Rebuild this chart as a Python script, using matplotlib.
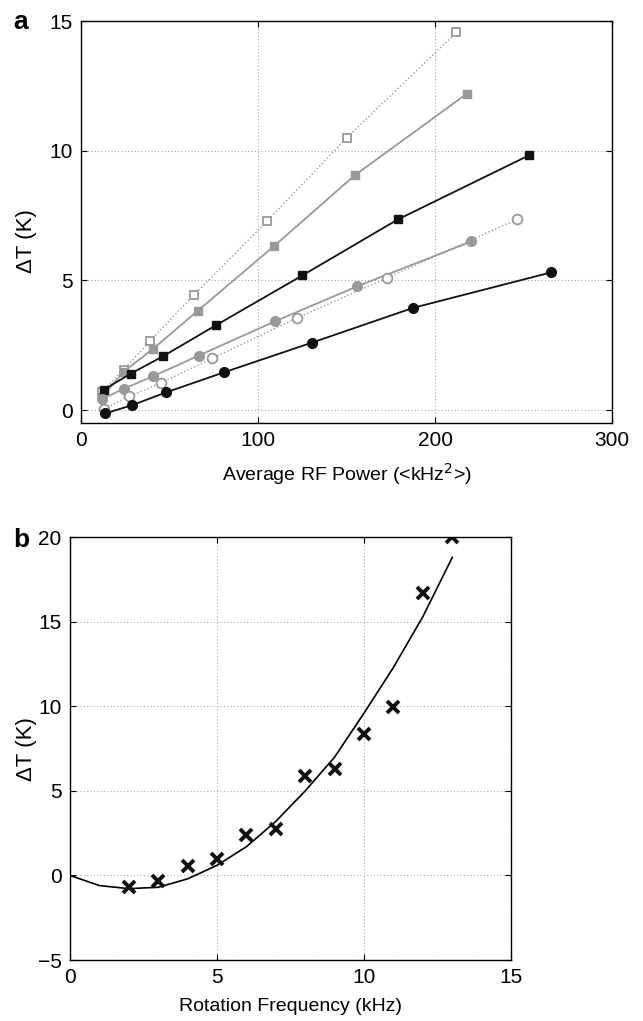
import matplotlib.pyplot as plt

plt.rcParams["font.family"] = ["Liberation Sans", "DejaVu Sans"]

# --- panel a: temperature rise vs average RF power ---
open_sq_x = [12, 24, 39, 64, 105, 150, 212]
open_sq_y = [0.70, 1.55, 2.67, 4.45, 7.28, 10.49, 14.56]

grey_sq_x = [12, 24, 40.5, 66, 109, 154.6, 218]
grey_sq_y = [0.50, 1.47, 2.35, 3.83, 6.32, 9.05, 12.2]

black_sq_x = [13, 28, 46.5, 76, 125, 179, 253]
black_sq_y = [0.79, 1.40, 2.08, 3.26, 5.19, 7.35, 9.82]

grey_ci_x = [12, 24, 40.7, 66.5, 109.6, 156, 220.5]
grey_ci_y = [0.42, 0.82, 1.30, 2.10, 3.42, 4.77, 6.50]

open_ci_x = [13, 27, 45, 74, 122, 173, 246]
open_ci_y = [0.04, 0.53, 1.04, 1.99, 3.55, 5.10, 7.35]

black_ci_x = [13.7, 29, 48, 80.6, 130.5, 187.6, 265.7]
black_ci_y = [-0.13, 0.19, 0.68, 1.45, 2.60, 3.94, 5.31]

# --- panel b: temperature rise vs rotation frequency ---
rot_x = [2, 3, 4, 5, 6, 7, 8, 9, 10, 11, 12, 13]
rot_y = [-0.7, -0.3, 0.53, 0.95, 2.37, 2.72, 5.86, 6.27, 8.34, 9.94, 16.7, 20.0]

fit_x = [0, 1, 2, 3, 4, 5, 6, 7, 8, 9, 10, 11, 12, 13]
fit_y = [0.0, -0.6, -0.78, -0.7, -0.2, 0.6, 1.7, 3.2, 5.0, 7.0, 9.6, 12.3, 15.3, 18.8]

GREY = "#999999"
TICK_FS = 15
LABEL_FS = 14
YLABEL_FS = 16


def style_axes(ax):
    ax.grid(True, linestyle=(0, (1, 2)), color="#aaaaaa", linewidth=0.8)
    ax.tick_params(direction="in", length=4, labelsize=TICK_FS, top=True, right=True,
                   pad=6)
    for spine in ax.spines.values():
        spine.set_linewidth(1.0)


fig = plt.figure(figsize=(6.43, 10.21), dpi=100)

ax1 = fig.add_axes([0.126, 0.5857, 0.826, 0.3937])
ax1.plot(open_sq_x, open_sq_y, linestyle=":", color=GREY, lw=1.0,
         marker="s", ms=6, mfc="white", mec=GREY, mew=1.3)
ax1.plot(grey_sq_x, grey_sq_y, linestyle="-", color=GREY, lw=1.3,
         marker="s", ms=6, mfc=GREY, mec=GREY)
ax1.plot(black_sq_x, black_sq_y, linestyle="-", color="#111111", lw=1.3,
         marker="s", ms=6, mfc="#111111", mec="#111111")
ax1.plot(grey_ci_x, grey_ci_y, linestyle="-", color=GREY, lw=1.3,
         marker="o", ms=7, mfc=GREY, mec=GREY)
ax1.plot(open_ci_x, open_ci_y, linestyle=":", color=GREY, lw=1.0,
         marker="o", ms=7, mfc="white", mec=GREY, mew=1.3)
ax1.plot(black_ci_x, black_ci_y, linestyle="-", color="#111111", lw=1.3,
         marker="o", ms=7, mfc="#111111", mec="#111111")
ax1.set_xlim(0, 300)
ax1.set_ylim(-0.5, 15)
ax1.set_xticks([0, 100, 200, 300])
ax1.set_yticks([0, 5, 10, 15])
ax1.set_xlabel("Average RF Power (<kHz$^2$>)", fontsize=LABEL_FS, labelpad=8)
ax1.set_ylabel("\u0394T (K)", fontsize=YLABEL_FS)
ax1.yaxis.set_label_coords(-0.083, 0.453)
style_axes(ax1)
fig.text(0.02, 0.978, "a", fontsize=19, fontweight="bold", va="center")

ax2 = fig.add_axes([0.1089, 0.0597, 0.686, 0.4143])
ax2.plot(fit_x, fit_y, color="black", lw=1.2)
ax2.plot(rot_x, rot_y, linestyle="none", marker="x", ms=8, mew=2.8, color="#111111")
ax2.set_xlim(0, 15)
ax2.set_ylim(-5, 20)
ax2.set_xticks([0, 5, 10, 15])
ax2.set_yticks([-5, 0, 5, 10, 15, 20])
ax2.set_yticklabels(["\u22125", "0", "5", "10", "15", "20"])
ax2.set_xlabel("Rotation Frequency (kHz)", fontsize=LABEL_FS, labelpad=8)
ax2.set_ylabel("\u0394T (K)", fontsize=YLABEL_FS)
ax2.yaxis.set_label_coords(-0.075, 0.499)
style_axes(ax2)
fig.text(0.02, 0.471, "b", fontsize=19, fontweight="bold", va="center")

fig.savefig("out.png", dpi=100)
